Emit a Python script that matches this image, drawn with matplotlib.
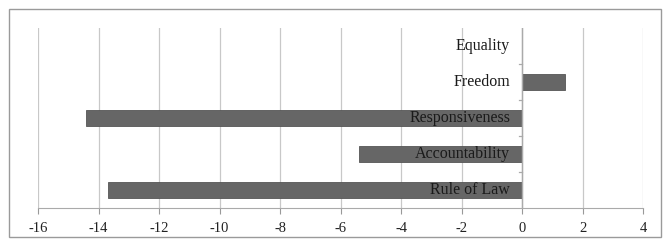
import matplotlib.pyplot as plt
from matplotlib.patches import Rectangle

categories = ["Rule of Law", "Accountability", "Responsiveness", "Freedom", "Equality"]
values = [-13.7, -5.4, -14.4, 1.4, 0.0]
xticks = [-16, -14, -12, -10, -8, -6, -4, -2, 0, 2, 4]

plt.rcParams['font.family'] = ['Liberation Serif', 'DejaVu Serif']

fig = plt.figure(figsize=(6.68, 2.43), dpi=100)
ax = fig.add_axes([0.057, 0.144, 0.906, 0.74])

# outer frame like the original chart box
fig.patches.append(Rectangle((0.013, 0.025), 0.976, 0.94, transform=fig.transFigure,
                             fill=False, edgecolor="#9a9a9a", linewidth=1.0))

pos = list(range(len(categories)))
ax.barh(pos, values, height=0.45, color="#666666", edgecolor="#555555",
        linewidth=0.6, zorder=3)

ax.set_xlim(-16, 4)
ax.set_ylim(-0.5, len(categories) - 0.5)
ax.set_xticks(xticks)
ax.set_xticklabels([str(t) for t in xticks], fontsize=10.5, color="#222222")
ax.tick_params(axis="x", length=4, color="#999999", pad=6)
ax.grid(axis="x", color="#c8c8c8", linewidth=0.9, zorder=0)

ax.set_yticks([])
for s in ["top", "right", "left"]:
    ax.spines[s].set_visible(False)
ax.spines["bottom"].set_color("#aaaaaa")

# category axis at zero with small ticks between bands
ax.axvline(0, color="#aaaaaa", linewidth=1.0, zorder=4)
for b in range(1, len(categories)):
    ax.plot([-0.12, 0], [b - 0.5, b - 0.5], color="#aaaaaa", linewidth=0.9, zorder=4)

for p, c in zip(pos, categories):
    ax.text(-0.4, p, c, ha="right", va="center", fontsize=11.5,
            color="#1a1a1a", zorder=5)

fig.savefig("out.png", dpi=100)
